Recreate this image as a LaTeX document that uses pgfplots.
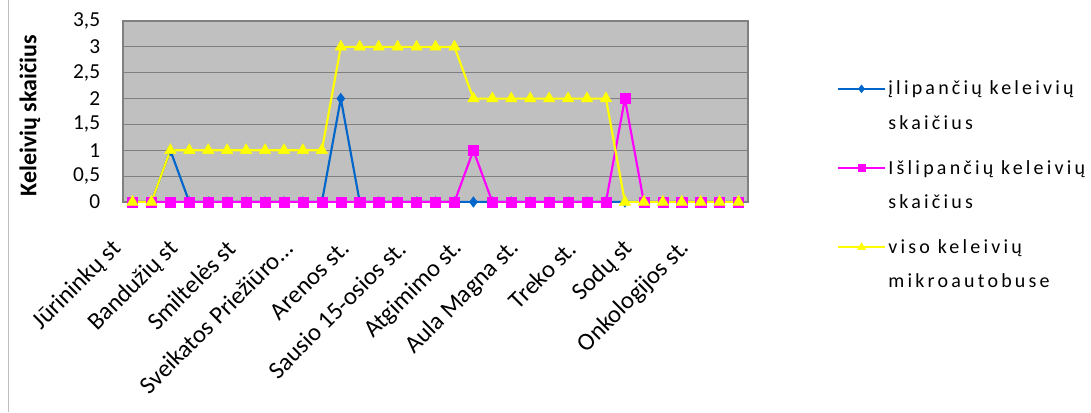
\documentclass[border=0pt]{standalone}
\usepackage{pgfplots}
\pgfplotsset{compat=1.18}
\usepackage{pgfplotstable}
\usepackage{fontspec}
\setmainfont{Carlito}
\newfontfamily\legfont[LetterSpace=16]{Carlito}
\definecolor{bgc}{HTML}{C0C0C0}
\definecolor{gridc}{HTML}{808080}
\definecolor{cblue}{HTML}{0066CC}
\definecolor{cmag}{HTML}{FF00FF}
\definecolor{cyel}{HTML}{FFFF00}
\pgfplotstableread{
idx in out total
0 0 0 0
1 0 0 0
2 1 0 1
3 0 0 1
4 0 0 1
5 0 0 1
6 0 0 1
7 0 0 1
8 0 0 1
9 0 0 1
10 0 0 1
11 2 0 3
12 0 0 3
13 0 0 3
14 0 0 3
15 0 0 3
16 0 0 3
17 0 0 3
18 0 1 2
19 0 0 2
20 0 0 2
21 0 0 2
22 0 0 2
23 0 0 2
24 0 0 2
25 0 0 2
26 0 2 0
27 0 0 0
28 0 0 0
29 0 0 0
30 0 0 0
31 0 0 0
32 0 0 0
}\datatable
\newcommand{\twoline}[2]{\vtop{\baselineskip=26pt\hbox{#1}\hbox{#2}}}
\begin{document}
\begin{tikzpicture}[x=1pt,y=1pt]
\path[use as bounding box] (0,0) rectangle (818.25,309);
\draw[color=black!25, line width=0.75pt] (6,0) -- (6,309);
\begin{axis}[
  at={(92.25pt,157.5pt)}, anchor=south west,
  scale only axis, width=468.75pt, height=135.75pt,
  xmin=-0.5, xmax=32.5, ymin=0, ymax=3.5,
  axis background/.style={fill=bgc},
  axis line style={gridc, line width=0.8pt},
  ymajorgrids, grid style={gridc, line width=0.9pt},
  major tick length=0pt,
  ytick={0,0.5,1,1.5,2,2.5,3,3.5},
  /pgf/number format/use comma,
  /pgf/number format/assume math mode=true,
  yticklabel style={font=\fontsize{16}{18}\selectfont, anchor=east, inner sep=0pt, xshift=-17pt},
  xtick={0,3,...,30},
  xticklabels={Jūrininkų st, Bandužių st, Smiltelės st, Sveikatos Priežiūro…, Arenos st., Sausio 15-osios st., Atgimimo st., Aula Magna st., Treko st., Sodų st, Onkologijos st.},
  xticklabel style={font=\fontsize{18.5}{20}\selectfont, inner sep=0pt, xshift=-11pt, yshift=-32pt, rotate=45, anchor=east},
  ylabel={Keleivių skaičius},
  ylabel style={at={(axis description cs:-0.149,0.475)}, anchor=center, font=\bfseries\fontsize{18}{20}\selectfont},
  legend cell align=left,
  legend style={at={(axis description cs:1.136,0.70)}, anchor=north west, draw=none, fill=none,
    font=\legfont\fontsize{15}{18}\selectfont, row sep=43.5pt},
  legend image code/.code={\draw[mark repeat=2,mark phase=2,#1] plot coordinates {(0pt,0pt) (17.6pt,0pt) (35.2pt,0pt)};},
]
\addplot[cblue, line width=1.6pt, mark=diamond*, mark size=4pt, mark options={solid, line width=0.3pt}, legend image post style={mark size=3pt, line width=1.2pt}]
  table[x=idx, y=in] {\datatable};
\addlegendentry{\twoline{įlipančių keleivių}{skaičius}}
\addplot[cmag, line width=1.6pt, mark=square*, mark size=3.8pt, mark options={solid, line width=0.3pt}, legend image post style={mark size=2.6pt, line width=1.2pt}]
  table[x=idx, y=out] {\datatable};
\addlegendentry{\twoline{Išlipančių keleivių}{skaičius}}
\addplot[cyel, line width=1.6pt, mark=triangle*, mark size=5pt, mark options={solid, line width=0.3pt}, legend image post style={mark size=3.5pt, line width=1.2pt}]
  table[x=idx, y=total] {\datatable};
\addlegendentry{\twoline{viso keleivių}{mikroautobuse}}
\end{axis}
\end{tikzpicture}
\end{document}
